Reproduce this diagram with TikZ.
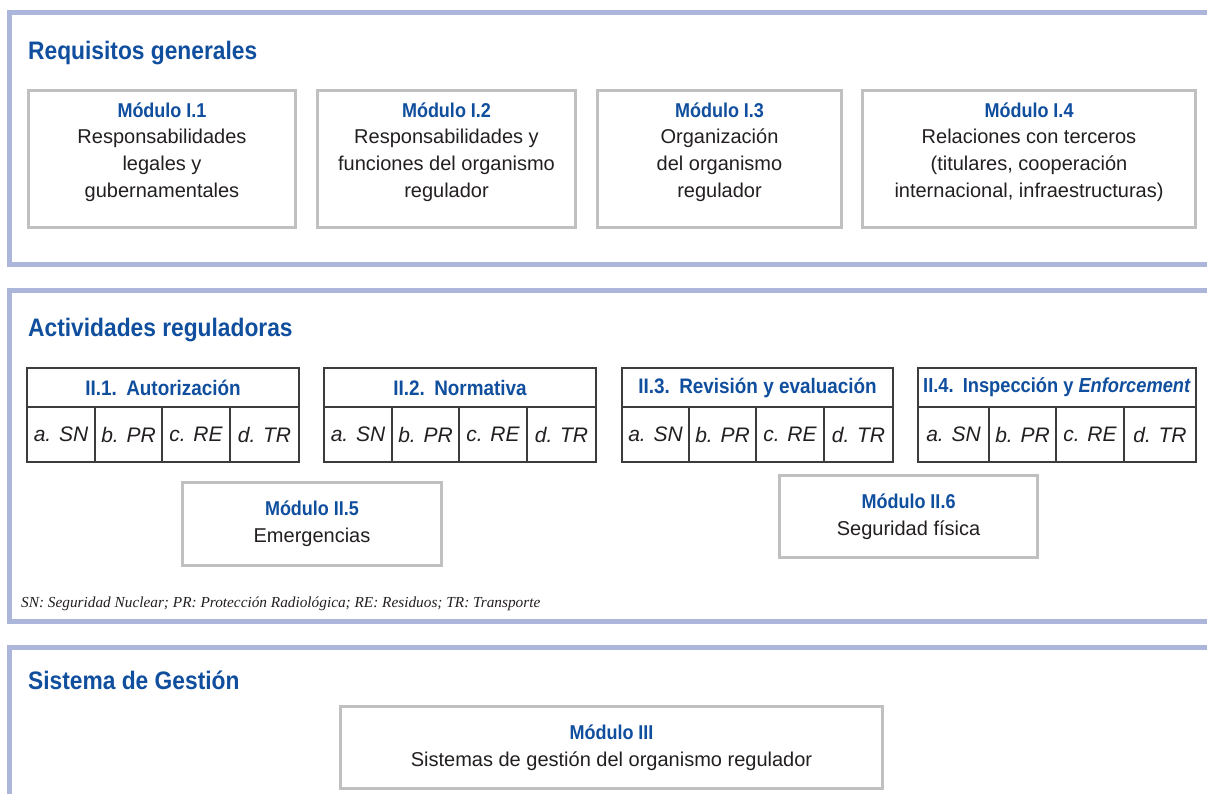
\documentclass[tikz,border=0pt]{standalone}
\usepackage{fontspec}
\setmainfont{Liberation Sans}
\newfontfamily\hdfont{Liberation Sans}[FakeStretch=0.9]
\newfontfamily\notefont{Liberation Serif}
\definecolor{titleblue}{RGB}{16,78,158}
\definecolor{framecol}{RGB}{172,182,218}
\definecolor{boxgray}{RGB}{192,192,192}
\definecolor{tabline}{RGB}{60,60,60}
\definecolor{textdark}{RGB}{35,31,32}
\newcommand\acttab[8]{%
  % #1 prefix, #2 left, #3 right, #4 d1, #5 d2, #6 d3, #7 title, #8 title font size
  \node[tabhead, minimum width={#3-#2}, font=\hdfont\bfseries\fontsize{#8}{25}\selectfont] (#1h) at ({(#2+#3)/2},387.5) {#7};
  \node[tabcell, minimum width={#4-#2}] (#1a) at ({(#2+#4)/2},434.5) {a. SN};
  \node[tabcell, minimum width={#5-#4}] (#1b) at ({(#4+#5)/2},434.5) {b. PR};
  \node[tabcell, minimum width={#6-#5}] (#1c) at ({(#5+#6)/2},434.5) {c. RE};
  \node[tabcell, minimum width={#3-#6}] (#1d) at ({(#6+#3)/2},434.5) {d. TR};
}
\begin{document}
\begin{tikzpicture}[x=1pt,y=-1pt,
  frame/.style={draw=framecol, line width=5pt},
  sectitle/.style={anchor=base west, inner sep=0, text=titleblue, font=\hdfont\bfseries\fontsize{25.3}{30}\selectfont},
  modbox/.style={draw=boxgray, line width=3pt, inner sep=0},
  modtext/.style={align=center, inner sep=0, text=textdark, font=\fontsize{20}{26.7}\selectfont},
  tabhead/.style={draw=tabline, line width=1.5pt, minimum height=39, inner sep=0, text=titleblue},
  tabcell/.style={draw=tabline, line width=1.5pt, minimum height=55, inner sep=0, text=textdark, font=\itshape\fontsize{21}{25}\selectfont},
  note/.style={anchor=base west, inner sep=0, text=textdark, font=\notefont\itshape\fontsize{15.3}{18}\selectfont}
]
\useasboundingbox (0,0) rectangle (1207,794);
\clip (0,0) rectangle (1207,794);
\fill[white] (0,0) rectangle (1207,794);
\newcommand\modt[1]{{\hdfont\bfseries\color{titleblue}#1}}

% ---------- Frame 1 ----------
\draw[frame] (1212,12.5) -- (9.5,12.5) -- (9.5,265) -- (1212,265);
\node[sectitle] (s1) at (28,59.5) {Requisitos generales};
\node[modbox, minimum width=267, minimum height=137] (m11) at (162,159) {};
\node[modbox, minimum width=258, minimum height=137] (m12) at (446.5,159) {};
\node[modbox, minimum width=244, minimum height=137] (m13) at (719.5,159) {};
\node[modbox, minimum width=333, minimum height=137] (m14) at (1029,159) {};
\node[modtext] (m11t) at (162,152) {\modt{Módulo I.1}\\Responsabilidades\\legales y\\gubernamentales};
\node[modtext] (m12t) at (446.5,152) {\modt{Módulo I.2}\\Responsabilidades y\\funciones del organismo\\regulador};
\node[modtext] (m13t) at (719.5,152) {\modt{Módulo I.3}\\Organización\\del organismo\\regulador};
\node[modtext] (m14t) at (1029,152) {\modt{Módulo I.4}\\Relaciones con terceros\\(titulares, cooperación\\internacional, infraestructuras)};

% ---------- Frame 2 ----------
\draw[frame] (1212,290.8) -- (9.5,290.8) -- (9.5,621.5) -- (1212,621.5);
\node[sectitle] (s2) at (28,336.7) {Actividades reguladoras};
\acttab{t1}{27}{299}{95}{162}{230}{II.1.\hspace{0.45em}Autorización}{21}
\acttab{t2}{324}{596}{392}{459}{527}{II.2.\hspace{0.45em}Normativa}{21}
\acttab{t3}{622}{893}{689}{756}{824}{II.3.\hspace{0.45em}Revisión y evaluación}{21}
\acttab{t4}{918}{1196}{989}{1056}{1124}{II.4.\hspace{0.45em}Inspección y \textit{Enforcement}}{20.3}
\node[modbox, minimum width=259, minimum height=83] (m25) at (312,524) {};
\node[modtext] (m25t) at (312,524) {\modt{Módulo II.5}\\Emergencias};
\node[modbox, minimum width=258, minimum height=82] (m26) at (908.5,516.5) {};
\node[modtext] (m26t) at (908.5,517) {\modt{Módulo II.6}\\Seguridad física};
\node[note] (fn) at (21,607) {SN: Seguridad Nuclear; PR: Protección Radiológica; RE: Residuos; TR: Transporte};

% ---------- Frame 3 ----------
\draw[frame] (1212,647.5) -- (9.5,647.5) -- (9.5,800);
\node[sectitle] (s3) at (28,689.3) {Sistema de Gestión};
\node[modbox, minimum width=542, minimum height=82] (m3) at (611.5,747.5) {};
\node[modtext] (m3t) at (611.5,747.5) {\modt{Módulo III}\\Sistemas de gestión del organismo regulador};
\end{tikzpicture}
\end{document}
